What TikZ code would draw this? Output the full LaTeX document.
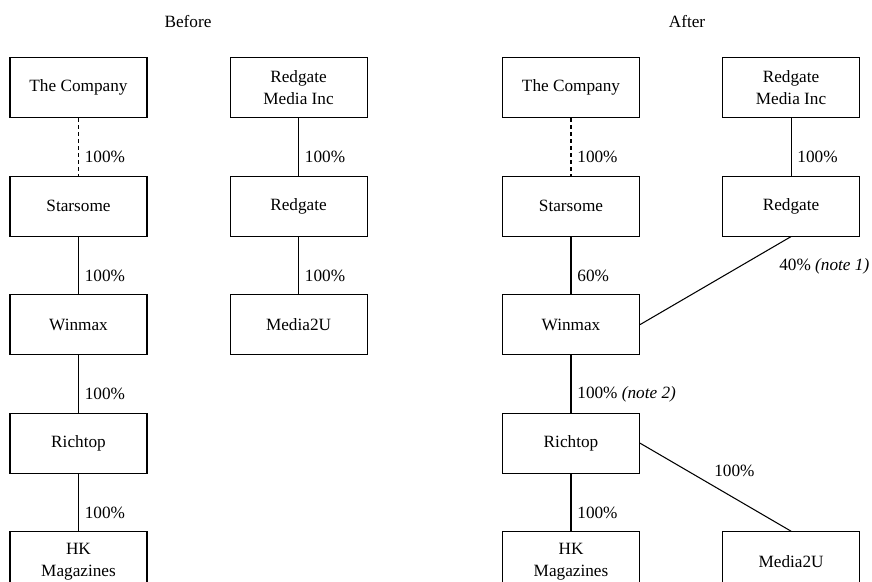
\documentclass[tikz,border=0pt]{standalone}
\usepackage{fontspec}
\setmainfont{Liberation Serif}
\usetikzlibrary{positioning}

\begin{document}
\begin{tikzpicture}[boxnode/.style={rectangle, draw, line width=0.6pt, minimum width=27.4mm, minimum height=12mm, align=center, inner sep=0pt},
                    link/.style={line width=0.6pt},
                    font=\fontsize{9.8}{12.8}\selectfont,
                    node distance=11.5mm and 16.4mm]
            \useasboundingbox (0,0) rectangle (174.4mm,-116.4mm);
            %Titles
            \node (before) at (37.6mm,-4.4mm) {Before};
            \node (after)  at (137.4mm,-4.4mm) {After};
            %Nodes before
            \node[boxnode]   (companyA)  at (15.7mm,-17.5mm)        {The Company};
            \node[boxnode]   (starsomeA) [below=of companyA]        {Starsome};
            \node[boxnode]   (winmaxA)   [below=of starsomeA]       {Winmax};
            \node[boxnode]   (richtopA)  [below=of winmaxA]         {Richtop};
            \node[boxnode]   (hkmagA)    [below=of richtopA]        {HK\\Magazines};
            \node[boxnode]   (rgmediaA)  [right=of companyA]        {Redgate\\Media Inc};
            \node[boxnode]   (redgateA)  [below=of rgmediaA]        {Redgate};
            \node[boxnode]   (media2uA)  [below=of redgateA]        {Media2U};
            %Nodes after
            \node[boxnode]   (companyB)  at (114.2mm,-17.5mm)       {The Company};
            \node[boxnode]   (starsomeB) [below=of companyB]        {Starsome};
            \node[boxnode]   (winmaxB)   [below=of starsomeB]       {Winmax};
            \node[boxnode]   (richtopB)  [below=of winmaxB]         {Richtop};
            \node[boxnode]   (hkmagB)    [below=of richtopB]        {HK\\Magazines};
            \node[boxnode]   (rgmediaB)  [right=of companyB]        {Redgate\\Media Inc};
            \node[boxnode]   (redgateB)  [below=of rgmediaB]        {Redgate};
            \node[boxnode]   (media2uB)  [right=of hkmagB]          {Media2U};
            %Links before
            \draw[link, dash pattern=on 2.3pt off 1.7pt] (companyA.south) -- node[pos=.68, right] {100\%} (starsomeA.north);
            \draw[link] (starsomeA.south) -- node[pos=.68, right] {100\%} (winmaxA.north);
            \draw[link] (winmaxA.south) -- node[pos=.68, right] {100\%} (richtopA.north);
            \draw[link] (richtopA.south) -- node[pos=.68, right] {100\%} (hkmagA.north);
            \draw[link] (rgmediaA.south) -- node[pos=.68, right] {100\%} (redgateA.north);
            \draw[link] (redgateA.south) -- node[pos=.68, right] {100\%} (media2uA.north);
            %Links after
            \draw[link, dash pattern=on 2.3pt off 1.7pt] (companyB.south) -- node[pos=.68, right] {100\%} (starsomeB.north);
            \draw[link] (starsomeB.south) -- node[pos=.68, right] {60\%} (winmaxB.north);
            \draw[link] (winmaxB.south) -- node[pos=.68, right] {100\% \textit{(note 2)}} (richtopB.north);
            \draw[link] (richtopB.south) -- node[pos=.68, right] {100\%} (hkmagB.north);
            \draw[link] (rgmediaB.south) -- node[pos=.68, right] {100\%} (redgateB.north);
            \draw[link] (redgateB.south) -- node[pos=.12, below right, yshift=-1mm] {40\% \textit{(note 1)}} (winmaxB.east);
            \draw[link] (richtopB.east) -- node[pos=.45, above right] {100\%} (media2uB.north);
        \end{tikzpicture}
\end{document}
